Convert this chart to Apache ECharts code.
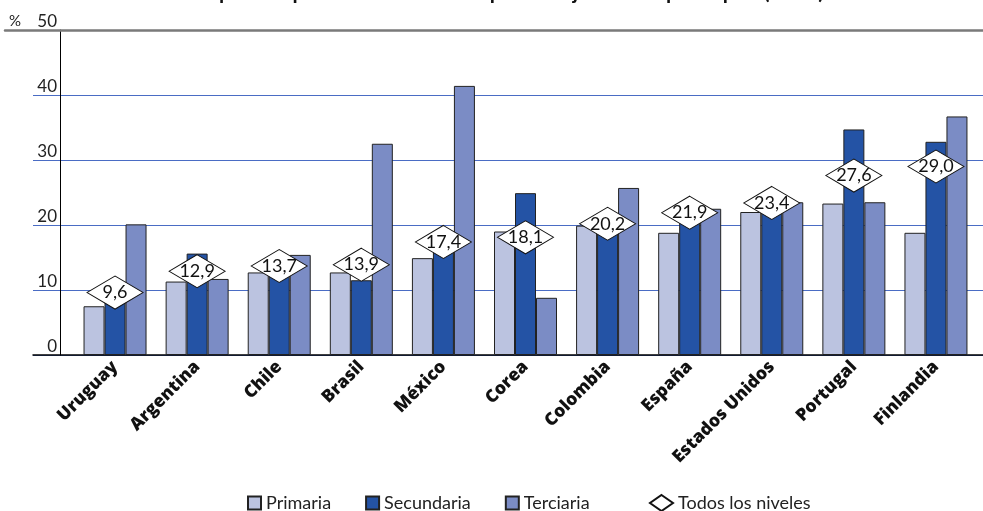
<!DOCTYPE html>
<html>
<head>
<meta charset="utf-8">
<script src="https://cdn.jsdelivr.net/npm/echarts@6/dist/echarts.min.js"></script>
<style>
  html, body { margin: 0; padding: 0; background: #fff; }
  #chart { width: 983px; height: 511px; }
</style>
</head>
<body>
<div id="chart"></div>
<script>
// Gasto por estudiante según nivel educativo, % del PIB per cápita
const countries = ['Uruguay', 'Argentina', 'Chile', 'Brasil', 'México', 'Corea',
  'Colombia', 'España', 'Estados Unidos', 'Portugal', 'Finlandia'];
const primaria   = [7.5, 11.3, 12.7, 12.7, 14.9, 19.0, 19.9, 18.8, 22.0, 23.3, 18.8];
const secundaria = [9.0, 15.6, 14.0, 11.5, 16.0, 24.9, 20.5, 22.6, 23.0, 34.7, 32.8];
const terciaria  = [20.1, 11.7, 15.4, 32.5, 41.4, 8.8, 25.7, 22.5, 23.5, 23.5, 36.7];
const todos      = [9.6, 12.9, 13.7, 13.9, 17.4, 18.1, 20.2, 21.9, 23.4, 27.6, 29.0];
const yTicks = { min: 0, max: 50, interval: 10 };

const FONT = 'Lato, "Open Sans", sans-serif';
const fmt = v => v.toFixed(1).replace('.', ',');

const chart = echarts.init(document.getElementById('chart'), null, { renderer: 'canvas' });

const barStyle = color => ({ color: color, borderColor: '#222', borderWidth: 1 });

chart.setOption({
  animation: false,
  backgroundColor: '#fff',
  title: {
    text: 'Gasto público por estudiante como porcentaje del PIB per cápita (2005)',
    left: 'center',
    top: -23,
    textStyle: { fontFamily: FONT, fontSize: 21, fontWeight: 'bold', color: '#111' }
  },
  graphic: [{
    type: 'text', left: 9, top: 14,
    style: { text: '%', fontFamily: FONT, fontSize: 15, fill: '#222' }
  }],
  grid: [
    // gridlines and tick labels
    { left: 33, right: 0, top: 30, bottom: 156 },
    // bars
    { left: 74, right: 6, top: 30, bottom: 156 },
    // vertical axis line
    { left: 60, right: 0, top: 30, bottom: 156 },
    // top frame line
    { left: 5, right: 0, top: 30, bottom: 156 }
  ],
  xAxis: [
    { gridIndex: 0, type: 'value', show: true, min: 0, max: 1,
      axisLine: { show: true, onZero: false, lineStyle: { color: '#000', width: 1.5 } },
      axisTick: { show: false }, axisLabel: { show: false }, splitLine: { show: false } },
    { gridIndex: 1, type: 'category', data: countries,
      axisLine: { show: false }, axisTick: { show: false },
      axisLabel: { rotate: 45, margin: 9, interval: 0, fontFamily: '"Open Sans", sans-serif',
        fontSize: 17.5, fontWeight: 800, color: '#111' } },
    { gridIndex: 2, type: 'value', show: false, min: 0, max: 1 },
    { gridIndex: 3, type: 'value', position: 'top', min: 0, max: 1,
      axisLine: { show: true, onZero: false, lineStyle: { color: '#7a7a7a', width: 2.5 } },
      axisTick: { show: false }, axisLabel: { show: false }, splitLine: { show: false } }
  ],
  yAxis: [
    { gridIndex: 0, type: 'value', min: yTicks.min, max: yTicks.max, interval: yTicks.interval,
      axisLine: { show: false }, axisTick: { show: false },
      axisLabel: { inside: true, align: 'right', verticalAlign: 'bottom', margin: 24,
        fontFamily: FONT, fontSize: 17, color: '#222' },
      splitLine: { show: true, lineStyle: { color: '#4a6cc4', width: 1 } } },
    { gridIndex: 1, type: 'value', min: yTicks.min, max: yTicks.max, interval: yTicks.interval,
      show: false },
    { gridIndex: 2, type: 'value', min: 0, max: 1,
      axisLine: { show: true, lineStyle: { color: '#000', width: 1 } },
      axisTick: { show: false }, axisLabel: { show: false }, splitLine: { show: false } },
    { gridIndex: 3, type: 'value', min: 0, max: 1, show: false }
  ],
  legend: [
    { data: ['Primaria', 'Secundaria', 'Terciaria'], left: 242, top: 489,
      icon: 'rect', itemWidth: 13, itemHeight: 13, itemGap: 34,
      textStyle: { fontFamily: FONT, fontSize: 18, color: '#222' } },
    { data: ['Todos los niveles'], left: 644, top: 489,
      icon: 'diamond', itemWidth: 23, itemHeight: 16, itemGap: 0,
      textStyle: { fontFamily: FONT, fontSize: 18, color: '#222' } }
  ],
  series: [
    { name: 'Primaria', type: 'bar', xAxisIndex: 1, yAxisIndex: 1, data: primaria,
      barWidth: 21, barGap: '0%', itemStyle: barStyle('#bbc3e0') },
    { name: 'Secundaria', type: 'bar', xAxisIndex: 1, yAxisIndex: 1, data: secundaria,
      barWidth: 21, barGap: '0%', itemStyle: barStyle('#2453a5') },
    { name: 'Terciaria', type: 'bar', xAxisIndex: 1, yAxisIndex: 1, data: terciaria,
      barWidth: 21, barGap: '0%', itemStyle: barStyle('#7b8cc5') },
    { name: 'Todos los niveles', type: 'scatter', xAxisIndex: 1, yAxisIndex: 1, data: todos,
      symbol: 'diamond', symbolSize: [56, 33], z: 5,
      itemStyle: { color: '#fff', borderColor: '#111', borderWidth: 1, opacity: 1 },
      label: { show: true, position: 'inside', formatter: p => fmt(p.value),
        fontFamily: FONT, fontSize: 18, color: '#111' } }
  ]
});
</script>
</body>
</html>
